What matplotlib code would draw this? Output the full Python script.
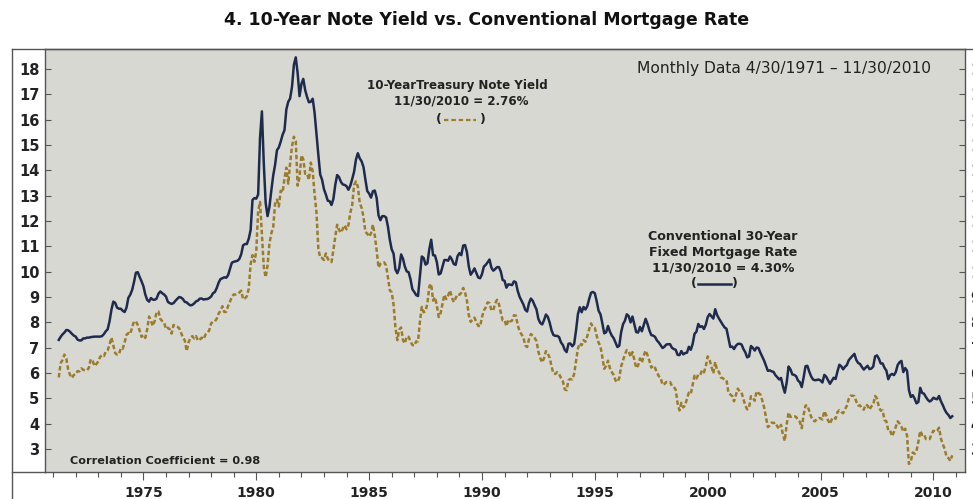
import numpy as np
import matplotlib
matplotlib.use("Agg")
import matplotlib.pyplot as plt
from matplotlib.lines import Line2D
from matplotlib.ticker import MultipleLocator

# ---------------------------------------------------------------------------
# Monthly data, April 1971 - November 2010 (one row per calendar year)
# ---------------------------------------------------------------------------
treasury_10y = [
    [5.83, 6.39, 6.52, 6.73, 6.58, 6.14, 5.93, 5.81, 5.93],                  # 1971 (Apr-)
    [5.95, 6.08, 6.07, 6.19, 6.13, 6.11, 6.11, 6.21, 6.55, 6.48, 6.28, 6.36],  # 1972
    [6.46, 6.64, 6.71, 6.67, 6.85, 6.90, 7.13, 7.40, 7.09, 6.79, 6.73, 6.74],  # 1973
    [6.99, 6.96, 7.21, 7.51, 7.58, 7.54, 7.81, 8.04, 8.04, 7.90, 7.68, 7.43],  # 1974
    [7.50, 7.39, 7.73, 8.23, 8.06, 7.86, 8.06, 8.40, 8.43, 8.14, 8.05, 8.00],  # 1975
    [7.74, 7.79, 7.73, 7.56, 7.90, 7.86, 7.83, 7.77, 7.59, 7.41, 7.29, 6.87],  # 1976
    [7.21, 7.39, 7.46, 7.37, 7.46, 7.28, 7.33, 7.40, 7.34, 7.52, 7.58, 7.69],  # 1977
    [7.96, 8.03, 8.04, 8.15, 8.35, 8.46, 8.64, 8.41, 8.42, 8.64, 8.81, 9.01],  # 1978
    [9.10, 9.10, 9.12, 9.18, 9.25, 8.91, 8.95, 9.03, 9.33, 10.30, 10.65, 10.39],  # 1979
    [10.80, 12.41, 12.75, 11.47, 10.18, 9.78, 10.25, 11.10, 11.51, 11.75, 12.68, 12.84],  # 1980
    [12.57, 13.19, 13.12, 13.68, 14.10, 13.47, 14.28, 14.94, 15.32, 15.15, 13.39, 13.72],  # 1981
    [14.59, 14.43, 13.86, 13.87, 13.62, 14.30, 13.95, 13.06, 12.34, 10.91, 10.55, 10.54],  # 1982
    [10.46, 10.72, 10.51, 10.40, 10.38, 10.85, 11.38, 11.85, 11.65, 11.54, 11.69, 11.83],  # 1983
    [11.67, 11.84, 12.32, 12.63, 13.41, 13.56, 13.36, 12.72, 12.52, 12.16, 11.57, 11.50],  # 1984
    [11.38, 11.51, 11.86, 11.43, 10.85, 10.16, 10.31, 10.33, 10.37, 10.24, 9.78, 9.26],  # 1985
    [9.19, 8.70, 7.78, 7.30, 7.71, 7.80, 7.30, 7.17, 7.45, 7.43, 7.25, 7.11],  # 1986
    [7.08, 7.25, 7.25, 8.02, 8.61, 8.40, 8.45, 8.76, 9.42, 9.52, 8.86, 8.99],  # 1987
    [8.67, 8.21, 8.37, 8.72, 9.09, 8.92, 9.06, 9.26, 8.98, 8.80, 8.96, 9.11],  # 1988
    [9.09, 9.17, 9.36, 9.18, 8.86, 8.28, 8.02, 8.11, 8.19, 8.01, 7.87, 7.84],  # 1989
    [8.21, 8.47, 8.59, 8.79, 8.76, 8.48, 8.47, 8.75, 8.89, 8.72, 8.39, 8.08],  # 1990
    [8.09, 7.85, 8.11, 8.04, 8.07, 8.28, 8.27, 7.90, 7.65, 7.53, 7.42, 7.09],  # 1991
    [7.03, 7.34, 7.54, 7.48, 7.39, 7.26, 6.84, 6.59, 6.42, 6.59, 6.87, 6.77],  # 1992
    [6.60, 6.26, 5.98, 5.97, 6.04, 5.96, 5.81, 5.68, 5.36, 5.33, 5.72, 5.77],  # 1993
    [5.75, 5.97, 6.48, 6.97, 7.18, 7.10, 7.30, 7.24, 7.46, 7.74, 7.96, 7.81],  # 1994
    [7.78, 7.47, 7.20, 7.06, 6.63, 6.17, 6.28, 6.49, 6.20, 6.04, 5.93, 5.71],  # 1995
    [5.65, 5.81, 6.27, 6.51, 6.74, 6.91, 6.87, 6.64, 6.83, 6.53, 6.20, 6.30],  # 1996
    [6.58, 6.42, 6.69, 6.89, 6.71, 6.49, 6.22, 6.30, 6.21, 6.03, 5.88, 5.81],  # 1997
    [5.54, 5.57, 5.65, 5.64, 5.65, 5.50, 5.46, 5.34, 4.81, 4.53, 4.83, 4.65],  # 1998
    [4.72, 5.00, 5.23, 5.18, 5.54, 5.90, 5.79, 5.94, 5.92, 6.11, 6.03, 6.28],  # 1999
    [6.66, 6.52, 6.26, 5.99, 6.44, 6.10, 6.05, 5.83, 5.80, 5.74, 5.72, 5.24],  # 2000
    [5.16, 5.10, 4.89, 5.14, 5.39, 5.28, 5.24, 4.97, 4.73, 4.57, 4.65, 5.09],  # 2001
    [5.04, 4.91, 5.28, 5.21, 5.16, 4.93, 4.65, 4.26, 3.87, 3.94, 4.05, 4.03],  # 2002
    [4.05, 3.90, 3.81, 3.96, 3.57, 3.33, 3.98, 4.45, 4.27, 4.29, 4.30, 4.27],  # 2003
    [4.15, 4.08, 3.83, 4.35, 4.72, 4.73, 4.50, 4.28, 4.13, 4.10, 4.19, 4.23],  # 2004
    [4.22, 4.17, 4.50, 4.34, 4.14, 4.00, 4.18, 4.26, 4.20, 4.46, 4.54, 4.47],  # 2005
    [4.42, 4.57, 4.72, 4.99, 5.11, 5.11, 5.09, 4.88, 4.72, 4.73, 4.60, 4.56],  # 2006
    [4.76, 4.72, 4.56, 4.69, 4.75, 5.10, 5.00, 4.67, 4.52, 4.53, 4.15, 4.10],  # 2007
    [3.74, 3.74, 3.51, 3.68, 3.88, 4.10, 4.01, 3.89, 3.69, 3.81, 3.53, 2.42],  # 2008
    [2.52, 2.87, 2.82, 2.93, 3.29, 3.72, 3.56, 3.59, 3.40, 3.39, 3.40, 3.59],  # 2009
    [3.73, 3.69, 3.73, 3.85, 3.42, 3.20, 3.01, 2.70, 2.65, 2.54, 2.76],        # 2010 (-Nov)
]

mortgage_30y = [
    [7.31, 7.43, 7.53, 7.60, 7.70, 7.69, 7.63, 7.55, 7.48],                  # 1971 (Apr-)
    [7.44, 7.32, 7.29, 7.29, 7.37, 7.37, 7.40, 7.40, 7.42, 7.43, 7.44, 7.44],  # 1972
    [7.44, 7.44, 7.46, 7.54, 7.65, 7.73, 8.05, 8.50, 8.82, 8.77, 8.58, 8.54],  # 1973
    [8.54, 8.46, 8.41, 8.58, 8.97, 9.09, 9.28, 9.59, 9.96, 9.98, 9.79, 9.62],  # 1974
    [9.43, 9.10, 8.89, 8.82, 8.96, 8.90, 8.89, 8.94, 9.13, 9.22, 9.15, 9.10],  # 1975
    [9.02, 8.81, 8.76, 8.73, 8.76, 8.85, 8.93, 9.00, 8.98, 8.92, 8.81, 8.79],  # 1976
    [8.72, 8.67, 8.69, 8.75, 8.83, 8.86, 8.94, 8.94, 8.90, 8.92, 8.92, 8.96],  # 1977
    [9.02, 9.15, 9.20, 9.36, 9.57, 9.71, 9.74, 9.78, 9.76, 9.86, 10.11, 10.35],  # 1978
    [10.39, 10.41, 10.43, 10.50, 10.69, 11.04, 11.09, 11.09, 11.30, 11.64, 12.83, 12.90],  # 1979
    [12.88, 13.04, 15.28, 16.32, 14.26, 12.71, 12.19, 12.56, 13.20, 13.79, 14.21, 14.79],  # 1980
    [14.90, 15.13, 15.40, 15.58, 16.40, 16.70, 16.83, 17.29, 18.16, 18.45, 17.83, 16.92],  # 1981
    [17.40, 17.60, 17.16, 16.89, 16.68, 16.70, 16.82, 16.27, 15.43, 14.61, 13.83, 13.62],  # 1982
    [13.25, 13.04, 12.80, 12.78, 12.63, 12.87, 13.42, 13.81, 13.73, 13.54, 13.44, 13.42],  # 1983
    [13.37, 13.23, 13.39, 13.65, 13.94, 14.42, 14.67, 14.47, 14.35, 14.13, 13.64, 13.18],  # 1984
    [13.08, 12.92, 13.17, 13.20, 12.91, 12.22, 12.03, 12.19, 12.19, 12.14, 11.78, 11.26],  # 1985
    [10.88, 10.71, 10.08, 9.94, 10.14, 10.68, 10.51, 10.20, 10.01, 9.98, 9.70, 9.31],  # 1986
    [9.20, 9.08, 9.04, 9.83, 10.60, 10.54, 10.28, 10.33, 10.89, 11.26, 10.65, 10.64],  # 1987
    [10.38, 9.89, 9.93, 10.20, 10.46, 10.46, 10.43, 10.60, 10.48, 10.30, 10.27, 10.61],  # 1988
    [10.73, 10.65, 11.03, 11.05, 10.77, 10.20, 9.88, 9.99, 10.13, 9.95, 9.77, 9.74],  # 1989
    [9.90, 10.20, 10.27, 10.37, 10.48, 10.16, 10.04, 10.10, 10.18, 10.18, 10.01, 9.67],  # 1990
    [9.64, 9.37, 9.50, 9.49, 9.47, 9.62, 9.58, 9.24, 9.01, 8.86, 8.71, 8.50],  # 1991
    [8.43, 8.76, 8.94, 8.85, 8.67, 8.51, 8.13, 7.98, 7.92, 8.09, 8.31, 8.22],  # 1992
    [7.99, 7.68, 7.50, 7.47, 7.47, 7.42, 7.21, 7.11, 6.92, 6.83, 7.16, 7.17],  # 1993
    [7.06, 7.15, 7.68, 8.32, 8.60, 8.40, 8.61, 8.51, 8.64, 8.93, 9.17, 9.20],  # 1994
    [9.15, 8.83, 8.46, 8.32, 7.96, 7.57, 7.61, 7.86, 7.64, 7.48, 7.38, 7.20],  # 1995
    [7.03, 7.08, 7.62, 7.93, 8.07, 8.32, 8.25, 8.00, 8.23, 7.92, 7.62, 7.60],  # 1996
    [7.82, 7.65, 7.90, 8.14, 7.94, 7.69, 7.50, 7.48, 7.43, 7.29, 7.21, 7.10],  # 1997
    [6.99, 7.04, 7.13, 7.14, 7.14, 7.00, 6.95, 6.92, 6.72, 6.71, 6.87, 6.74],  # 1998
    [6.79, 6.81, 7.04, 6.92, 7.15, 7.55, 7.63, 7.94, 7.82, 7.85, 7.74, 7.91],  # 1999
    [8.21, 8.33, 8.24, 8.15, 8.52, 8.29, 8.15, 8.03, 7.91, 7.80, 7.75, 7.38],  # 2000
    [7.03, 7.05, 6.95, 7.08, 7.15, 7.16, 7.13, 6.95, 6.82, 6.62, 6.66, 7.07],  # 2001
    [7.00, 6.89, 7.01, 6.99, 6.81, 6.65, 6.49, 6.29, 6.09, 6.11, 6.07, 6.05],  # 2002
    [5.92, 5.84, 5.75, 5.81, 5.48, 5.23, 5.63, 6.26, 6.15, 5.95, 5.93, 5.88],  # 2003
    [5.71, 5.64, 5.45, 5.83, 6.27, 6.29, 6.06, 5.87, 5.75, 5.72, 5.73, 5.75],  # 2004
    [5.71, 5.63, 5.93, 5.86, 5.72, 5.58, 5.70, 5.82, 5.77, 6.07, 6.33, 6.27],  # 2005
    [6.15, 6.25, 6.32, 6.51, 6.60, 6.68, 6.76, 6.52, 6.40, 6.36, 6.24, 6.14],  # 2006
    [6.22, 6.29, 6.16, 6.18, 6.26, 6.66, 6.70, 6.57, 6.38, 6.38, 6.21, 6.10],  # 2007
    [5.76, 5.92, 5.97, 5.92, 6.04, 6.32, 6.43, 6.48, 6.04, 6.20, 6.09, 5.33],  # 2008
    [5.06, 5.13, 5.00, 4.81, 4.86, 5.42, 5.22, 5.19, 5.06, 4.95, 4.88, 4.93],  # 2009
    [5.03, 4.99, 4.97, 5.10, 4.89, 4.74, 4.56, 4.43, 4.35, 4.23, 4.30],        # 2010 (-Nov)
]

y_ticks = list(range(3, 19))
x_major = [1975, 1980, 1985, 1990, 1995, 2000, 2005, 2010]

t10 = np.concatenate([np.array(r) for r in treasury_10y])
mtg = np.concatenate([np.array(r) for r in mortgage_30y])
dates = 1971 + 3 / 12 + np.arange(len(t10)) / 12.0

# ---------------------------------------------------------------------------
C_BG = '#d8d8d3'
C_NAVY = '#1f2b4c'
C_GOLD = '#9b7c2c'
C_AX = '#555555'
C_TXT = '#222222'

W, H = 973, 499
fig = plt.figure(figsize=(W / 100, H / 100), dpi=100, facecolor='white')

L, R, T, B = 45, 965, 49, 472.3
ax = fig.add_axes([L / W, 1 - B / H, (R - L) / W, (B - T) / H])
ax.set_facecolor(C_BG)

ax.plot(dates, mtg, color=C_NAVY, lw=1.8, solid_joinstyle='round', zorder=3)
ax.plot(dates, t10, color=C_GOLD, lw=1.8, ls=(0, (1.8, 1.0)), zorder=3)

ax.set_xlim(1970.64, 2011.4)
ax.set_ylim(2.09, 18.78)

ax.set_yticks(y_ticks)
ax.set_xticks(x_major)
ax.xaxis.set_minor_locator(MultipleLocator(1))
ax.tick_params(axis='y', which='both', direction='in', length=4, width=0.8,
               color=C_AX, left=True, right=True, labelleft=True, labelright=True,
               labelsize=10.5, labelcolor=C_TXT, pad=7)
ax.tick_params(axis='y', which='both', labelright=True, pad=4)
for lab in ax.get_yticklabels():
    lab.set_fontweight('bold')
ax.tick_params(axis='x', which='major', direction='out', length=6, width=0.8,
               color=C_AX, labelsize=10, labelcolor=C_TXT, pad=4)
ax.tick_params(axis='x', which='minor', direction='out', length=3.5, width=0.8, color=C_AX)
for lab in ax.get_xticklabels():
    lab.set_fontweight('bold')
for s in ax.spines.values():
    s.set_color(C_AX)
    s.set_linewidth(1.0)

# outer frame pieces
fig.add_artist(Line2D([12 / W, 1], [1 - T / H, 1 - T / H], transform=fig.transFigure,
                      color=C_AX, lw=1.0))
fig.add_artist(Line2D([12 / W, 12 / W], [0, 1 - T / H], transform=fig.transFigure,
                      color=C_AX, lw=1.0))
fig.add_artist(Line2D([12 / W, L / W], [1 - B / H, 1 - B / H], transform=fig.transFigure,
                      color=C_AX, lw=1.0))

fig.text(0.5, 1 - 20 / H, '4. 10-Year Note Yield vs. Conventional Mortgage Rate',
         ha='center', va='center', fontsize=12.5, fontweight='bold', color='#111111')


def fx(px):
    return (px - L) / (R - L)


def fy(py):
    return (B - py) / (B - T)


tr = ax.transAxes
ax.text(fx(457), fy(86), '10-YearTreasury Note Yield', transform=tr, ha='center',
        va='center', fontsize=8.6, fontweight='bold', color=C_TXT)
ax.text(fx(461), fy(101), '11/30/2010 = 2.76%', transform=tr, ha='center',
        va='center', fontsize=8.6, fontweight='bold', color=C_TXT)
ax.text(fx(439), fy(120), '(', transform=tr, ha='center', va='center', fontsize=9,
        fontweight='bold', color=C_TXT)
ax.text(fx(483), fy(120), ')', transform=tr, ha='center', va='center', fontsize=9,
        fontweight='bold', color=C_TXT)
ax.add_line(Line2D([fx(444), fx(476)], [fy(120), fy(120)], transform=tr, color=C_GOLD,
                   lw=1.6, ls=(0, (2.0, 1.3))))

conv_lines = ['Conventional 30-Year', 'Fixed Mortgage Rate', '11/30/2010 = 4.30%']
for txt, py in zip(conv_lines, [237, 252.5, 268]):
    ax.text(fx(723), fy(py), txt, transform=tr, ha='center', va='center',
            fontsize=9.1, fontweight='bold', color=C_TXT)
ax.text(fx(694), fy(284), '(', transform=tr, ha='center', va='center', fontsize=9,
        fontweight='bold', color=C_TXT)
ax.text(fx(735), fy(284), ')', transform=tr, ha='center', va='center', fontsize=9,
        fontweight='bold', color=C_TXT)
ax.add_line(Line2D([fx(698), fx(731)], [fy(284), fy(284)], transform=tr, color=C_NAVY,
                   lw=1.8))

ax.text(fx(637), fy(69), 'Monthly Data 4/30/1971 \u2013 11/30/2010', transform=tr,
        ha='left', va='center', fontsize=11.2, color=C_TXT)
ax.text(fx(70), fy(461), 'Correlation Coefficient = 0.98', transform=tr,
        ha='left', va='center', fontsize=8.1, fontweight='bold', color=C_TXT)

fig.savefig('out.png', dpi=100, facecolor='white')
